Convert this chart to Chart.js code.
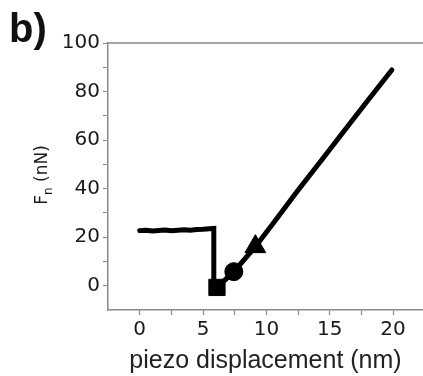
<!DOCTYPE html>
<html lang="en">
<head>
    <meta charset="UTF-8">
    <title>Fn vs piezo displacement</title>
    <script src="https://cdn.jsdelivr.net/npm/chart.js"></script>
    <style>
        html, body { margin: 0; padding: 0; background: #fff; overflow: hidden; }
        #wrap { width: 436px; height: 376px; position: relative; }
    </style>
</head>
<body>
    <div id="wrap"><canvas id="force-chart"></canvas></div>

    <script>
        // Force curve (nN) against piezo displacement (nm)
        const curveX = [0, 0.5, 1, 1.5, 2, 2.5, 3, 3.5, 4, 4.5, 5, 5.5, 5.85,
                        5.85, 6.1, 7.43, 9.13, 10.84, 12.42, 14.5, 16.1, 18.0, 19.9];
        const curveY = [22.7, 22.9, 22.6, 22.8, 23.0, 22.7, 22.9, 23.1, 22.9, 23.2, 23.3, 23.5, 23.6,
                        -0.7, -0.7, 5.8, 16.1, 27.8, 38.8, 52.7, 63.5, 76.3, 88.9];

        // Markers: square, circle, triangle
        const markerX = [6.1, 7.43, 9.13];
        const markerY = [-0.7, 5.8, 16.1];
        const markerStyles = ['rect', 'circle', 'triangle'];

        // Labelled ticks
        const xTickLabels = [0, 5, 10, 15, 20];
        const yTickLabels = [0, 20, 40, 60, 80, 100];

        const axisGray = '#8a8a8a';
        const tickFont = { family: '"DejaVu Sans"', size: 20 };

        // frame line on top + panel letter + y title with subscript
        const decorations = {
            id: 'decorations',
            afterDraw(chart) {
                const { ctx, chartArea } = chart;
                ctx.save();
                ctx.strokeStyle = axisGray;
                ctx.lineWidth = 1.5;
                ctx.beginPath();
                ctx.moveTo(chartArea.left, chartArea.top);
                ctx.lineTo(chartArea.right, chartArea.top);
                ctx.stroke();

                ctx.fillStyle = '#111';
                ctx.font = 'bold 40px "Liberation Sans"';
                ctx.textBaseline = 'alphabetic';
                ctx.fillText('b)', 9, 42);

                // y axis title, rotated
                ctx.translate(47, 175);
                ctx.rotate(-Math.PI / 2);
                const big = '17px "DejaVu Sans"';
                const small = '12px "DejaVu Sans"';
                ctx.font = big;
                const wF = ctx.measureText('F').width;
                const wRest = ctx.measureText(' (nN)').width;
                ctx.font = small;
                const wn = ctx.measureText('n').width;
                let u = -(wF + wn + wRest) / 2;
                ctx.fillStyle = '#1a1a1a';
                ctx.font = big;
                ctx.fillText('F', u, 0);
                u += wF;
                ctx.font = small;
                ctx.fillText('n', u, 5);
                u += wn;
                ctx.font = big;
                ctx.fillText(' (nN)', u, 0);
                ctx.restore();
            }
        };

        document.addEventListener('DOMContentLoaded', function() {
            const ctx = document.getElementById('force-chart').getContext('2d');
            new Chart(ctx, {
                type: 'scatter',
                data: {
                    datasets: [{
                        data: curveX.map((x, i) => ({ x: x, y: curveY[i] })),
                        showLine: true,
                        borderColor: '#000',
                        borderWidth: 5,
                        borderCapStyle: 'round',
                        borderJoinStyle: 'miter',
                        pointRadius: 0,
                        tension: 0
                    }, {
                        data: markerX.map((x, i) => ({ x: x, y: markerY[i] })),
                        showLine: false,
                        pointStyle: markerStyles,
                        pointRadius: [11.5, 9, 12],
                        backgroundColor: '#000',
                        borderColor: '#000',
                        borderWidth: 1
                    }]
                },
                options: {
                    responsive: true,
                    maintainAspectRatio: false,
                    animation: false,
                    layout: { padding: { top: 43, right: 0, bottom: 0, left: 0 } },
                    plugins: {
                        legend: { display: false },
                        tooltip: { enabled: false }
                    },
                    scales: {
                        x: {
                            type: 'linear',
                            min: -2.5,
                            max: 22.36,
                            afterBuildTicks: (scale) => {
                                const t = [];
                                for (let v = 0; v <= 20; v += 2.5) t.push({ value: v });
                                scale.ticks = t;
                            },
                            afterFit: (scale) => {
                                scale.height = 66;
                                scale.paddingLeft = 0;
                                scale.paddingRight = 0;
                            },
                            ticks: {
                                color: '#1a1a1a',
                                font: tickFont,
                                padding: 3,
                                maxRotation: 0,
                                autoSkip: false,
                                callback: (v) => xTickLabels.includes(v) ? String(v) : ''
                            },
                            grid: {
                                drawOnChartArea: false,
                                tickLength: 5,
                                tickColor: axisGray,
                                tickWidth: 1.2
                            },
                            border: { display: true, color: axisGray, width: 1.5 },
                            title: {
                                display: true,
                                text: 'piezo displacement (nm)',
                                color: '#222',
                                font: { family: '"Liberation Sans"', size: 25 },
                                padding: { top: 0, bottom: 0 }
                            }
                        },
                        y: {
                            min: -10,
                            max: 100,
                            afterBuildTicks: (scale) => {
                                const t = [];
                                for (let v = 0; v <= 100; v += 10) t.push({ value: v });
                                scale.ticks = t;
                            },
                            afterFit: (scale) => { scale.width = 108; },
                            ticks: {
                                color: '#1a1a1a',
                                font: tickFont,
                                padding: 3,
                                autoSkip: false,
                                callback: (v) => yTickLabels.includes(v) ? String(v) : ''
                            },
                            grid: {
                                drawOnChartArea: false,
                                tickLength: 5,
                                tickColor: axisGray,
                                tickWidth: 1.2
                            },
                            border: { display: true, color: axisGray, width: 1.5 }
                        }
                    }
                },
                plugins: [decorations]
            });
        });
    </script>
</body>
</html>
